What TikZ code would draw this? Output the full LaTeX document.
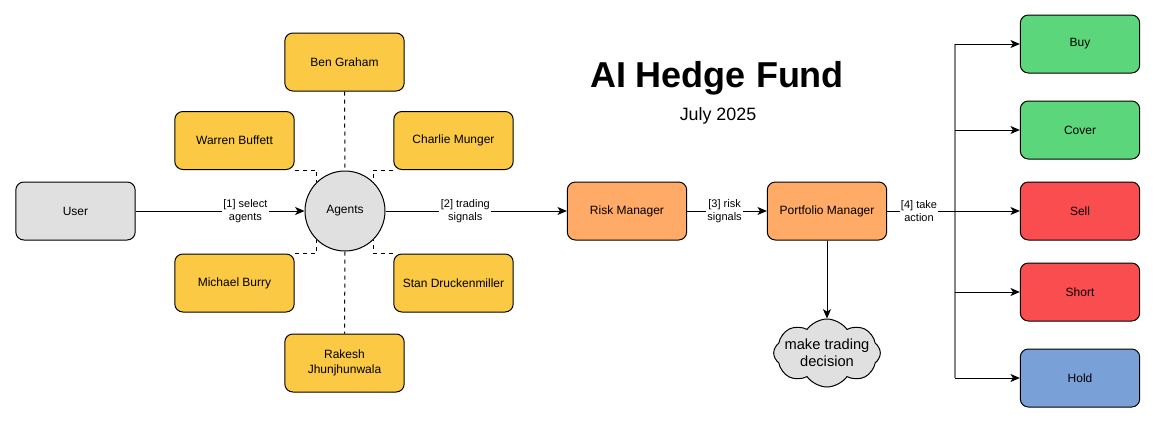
\documentclass[tikz,border=0pt]{standalone}
\usepackage{fontspec}
\setmainfont{Liberation Sans}
\usetikzlibrary{arrows.meta,shapes.symbols}
\definecolor{agentY}{HTML}{FBC943}
\definecolor{mgrO}{HTML}{FFAA66}
\definecolor{actG}{HTML}{5BD67A}
\definecolor{actR}{HTML}{FA4D4F}
\definecolor{actB}{HTML}{7AA0D8}
\definecolor{lgray}{HTML}{E0E0E0}
\definecolor{spine}{HTML}{858585}
\begin{document}
\begin{tikzpicture}[x=0.75pt,y=-0.75pt,
  box/.style={draw=black,line width=0.75pt,rounded corners=6pt,minimum width=89.5pt,minimum height=43.5pt,align=center,font=\fontsize{9}{11}\selectfont,inner sep=2pt},
  agentbox/.style={box,fill=agentY},
  mgrbox/.style={box,fill=mgrO},
  conn/.style={line width=0.75pt,-{Stealth[length=7pt,width=6pt,inset=1.8pt]}},
  dashconn/.style={line width=0.75pt,dashed,dash pattern=on 3pt off 3pt},
  elabel/.style={fill=white,inner sep=1pt,align=center,font=\fontsize{8.25}{10}\selectfont}
]
\useasboundingbox (0,0) rectangle (1154,436);
% title
\node (title) at (717,78) {\fontsize{27}{30}\selectfont\bfseries AI Hedge Fund};
\node (date) at (718,116) {\fontsize{13.4}{16}\selectfont July 2025};
% user and agents
\node[box,fill=lgray] (user) at (75.5,211) {User};
\node[circle,draw=black,line width=0.75pt,fill=lgray,minimum size=60pt,inner sep=0pt,font=\fontsize{9}{11}\selectfont] (ag) at (345,211) {Agents};
\node[agentbox] (bg) at (344.5,62) {Ben Graham};
\node[agentbox] (wb) at (234.5,140.5) {Warren Buffett};
\node[agentbox] (cm) at (453.5,140.5) {Charlie Munger};
\node[agentbox] (mb) at (234.5,283) {Michael Burry};
\node[agentbox] (sd) at (453.5,283) {Stan Druckenmiller};
\node[agentbox] (rj) at (344.5,363) {Rakesh\\Jhunjhunwala};
% dashed agent links
\draw[dashconn] (bg.south) -- (ag.north);
\draw[dashconn] (ag.south) -- (rj.north);
\draw[dashconn] (wb.south east) -| (ag.135);
\draw[dashconn] (cm.south west) -| (ag.45);
\draw[dashconn] (mb.north east) -| (ag.225);
\draw[dashconn] (sd.north west) -| (ag.315);
% managers
\node[mgrbox] (rm) at (627,211) {Risk Manager};
\node[mgrbox] (pm) at (827,211) {Portfolio Manager};
\node[cloud,draw=black,line width=0.75pt,fill=lgray,cloud puffs=8,cloud puff arc=110,aspect=1.6,minimum width=80pt,minimum height=51pt,inner xsep=-9pt,inner ysep=-7pt,align=center,font=\fontsize{11}{13}\selectfont] (dec) at (827,353) {make trading\\decision};
% actions
\node[box,fill=actG] (buy) at (1080,44) {Buy};
\node[box,fill=actG] (cover) at (1080,130) {Cover};
\node[box,fill=actR] (sell) at (1080,211) {Sell};
\node[box,fill=actR] (short) at (1080,292) {Short};
\node[box,fill=actB] (hold) at (1080,378) {Hold};
\coordinate (j) at (955,211);
% flow
\draw[conn] (user) -- node[elabel,pos=0.65] {[1] select\\agents} (ag);
\draw[conn] (ag) -- node[elabel,pos=0.44] {[2] trading\\signals} (rm);
\draw[conn] (rm) -- node[elabel,pos=0.47] {[3] risk\\signals} (pm);
\draw[conn] (pm.south) -- (dec.north);
\draw[spine,line width=1.3pt] (buy.west -| j) -- (hold.west -| j);
\draw[conn] (pm) -- node[elabel,pos=0.24] {[4] take\\action} (sell);
\draw[conn] (buy.west -| j) -- (buy);
\draw[conn] (cover.west -| j) -- (cover);
\draw[conn] (short.west -| j) -- (short);
\draw[conn] (hold.west -| j) -- (hold);
\end{tikzpicture}
\end{document}
